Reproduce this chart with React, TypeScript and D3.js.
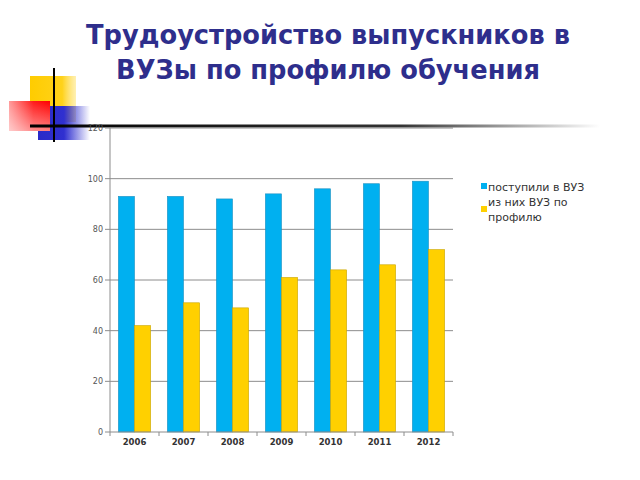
import React from "react";
import * as d3 from "d3";

const years = ["2006", "2007", "2008", "2009", "2010", "2011", "2012"];
const enrolled = [93, 93, 92, 94, 96, 98, 99];
const byProfile = [42, 51, 49, 61, 64, 66, 72];
const yTicks = [0, 20, 40, 60, 80, 100, 120];
const seriesNames = ["поступили в ВУЗ", "из них ВУЗ по профилю"];
const seriesColors = ["#00b0f0", "#ffd000"];
const titleLines = ["Трудоустройство выпускников в", "ВУЗы по профилю обучения"];

export default function App() {
  const left = 110, right = 453, top = 128, bottom = 432;
  const x = d3.scaleBand<string>().domain(years).range([left, right]).paddingInner(0).paddingOuter(0);
  const inner = d3.scaleBand<string>().domain(["a", "b"]).range([0, x.bandwidth()]).paddingOuter(0.52).paddingInner(0);
  const y = d3.scaleLinear().domain([0, 120]).range([bottom, top]);
  const series = [enrolled, byProfile];
  const keys = ["a", "b"];

  return (
    <svg width={640} height={480} style={{ position: "absolute", left: 0, top: 0, background: "#fff" }}>
      <defs>
        <linearGradient id="red" x1="0" x2="1" y1="0" y2="0">
          <stop offset="0" stopColor="#ff9a9a" />
          <stop offset="0.6" stopColor="#ff1a1a" />
          <stop offset="1" stopColor="#ff0000" />
        </linearGradient>
        <linearGradient id="redv" x1="0" x2="0" y1="0" y2="1">
          <stop offset="0" stopColor="#fff" stopOpacity="0" />
          <stop offset="1" stopColor="#fff" stopOpacity="0.5" />
        </linearGradient>
        <linearGradient id="blue" x1="0" x2="1" y1="0" y2="0">
          <stop offset="0" stopColor="#2a2ac8" />
          <stop offset="0.5" stopColor="#3030d0" />
          <stop offset="1" stopColor="#3030d0" stopOpacity="0" />
        </linearGradient>
        <linearGradient id="yellow" x1="0" x2="1" y1="0" y2="0">
          <stop offset="0" stopColor="#ffcc00" />
          <stop offset="0.7" stopColor="#ffd21a" />
          <stop offset="1" stopColor="#ffe680" stopOpacity="0.6" />
        </linearGradient>
        <linearGradient id="hline" x1="0" x2="1" y1="0" y2="0">
          <stop offset="0" stopColor="#000" />
          <stop offset="0.65" stopColor="#333" />
          <stop offset="1" stopColor="#fff" />
        </linearGradient>
      </defs>

      {/* decoration */}
      <rect x={30} y={76} width={46} height={46} fill="url(#yellow)" />
      <rect x={38} y={106} width={52} height={34} fill="url(#blue)" />
      <rect x={9} y={101} width={41} height={30} fill="url(#red)" />
      <rect x={9} y={101} width={41} height={30} fill="url(#redv)" />
      <rect x={30} y={124.5} width={570} height={3} fill="url(#hline)" />
      <line x1={54} x2={54} y1={68} y2={142} stroke="#000" strokeWidth={2} />

      {/* title */}
      {titleLines.map((t, i) => (
        <text key={i} x={328} y={44 + i * 35} textAnchor="middle" fontFamily="DejaVu Sans, Verdana, sans-serif"
          fontWeight="bold" fontSize={25.7} fill="#2e2e8c">{t}</text>
      ))}

      {/* gridlines */}
      {yTicks.map(t => (
        <g key={t}>
          {t > 0 && <line x1={left} x2={right} y1={y(t)} y2={y(t)} stroke="#8c8c8c" strokeWidth={1} />}
          <line x1={left - 5} x2={left} y1={y(t)} y2={y(t)} stroke="#8c8c8c" />
          <text x={left - 7} y={y(t) + 3} textAnchor="end" fontFamily="DejaVu Sans, sans-serif" fontSize={8} fill="#555">{t}</text>
        </g>
      ))}

      {/* bars */}
      {years.map((yr, i) => (
        <g key={yr} transform={`translate(${x(yr)},0)`}>
          {series.map((s, j) => (
            <rect key={j} x={(inner(keys[j]) as number)} y={y(s[i])} width={inner.bandwidth()} height={y(0) - y(s[i])}
              fill={seriesColors[j]} stroke={j === 0 ? "#1a8fc0" : "#c8a400"} strokeWidth={0.6} />
          ))}
        </g>
      ))}

      {/* axes */}
      <line x1={left} x2={left} y1={top} y2={bottom} stroke="#8c8c8c" />
      <line x1={left} x2={right} y1={bottom} y2={bottom} stroke="#8c8c8c" />
      {years.map(yr => (
        <g key={yr}>
          <line x1={(x(yr) as number) + x.bandwidth()} x2={(x(yr) as number) + x.bandwidth()} y1={bottom} y2={bottom + 4} stroke="#8c8c8c" />
          <text x={(x(yr) as number) + x.bandwidth() / 2} y={bottom + 13} textAnchor="middle" fontFamily="DejaVu Sans, sans-serif"
            fontSize={8.5} fontWeight="bold" fill="#333">{yr}</text>
        </g>
      ))}
      <line x1={left} x2={left} y1={bottom} y2={bottom + 4} stroke="#8c8c8c" />

      {/* legend */}
      <rect x={481} y={183} width={6} height={6} fill={seriesColors[0]} />
      <text x={488} y={191} fontFamily="DejaVu Sans, sans-serif" fontSize={11} fill="#333">{seriesNames[0]}</text>
      <rect x={481} y={206} width={6} height={6} fill={seriesColors[1]} />
      <text x={488} y={206} fontFamily="DejaVu Sans, sans-serif" fontSize={11} fill="#333">
        <tspan x={488}>из них ВУЗ по</tspan>
        <tspan x={488} dy={15}>профилю</tspan>
      </text>
    </svg>
  );
}
